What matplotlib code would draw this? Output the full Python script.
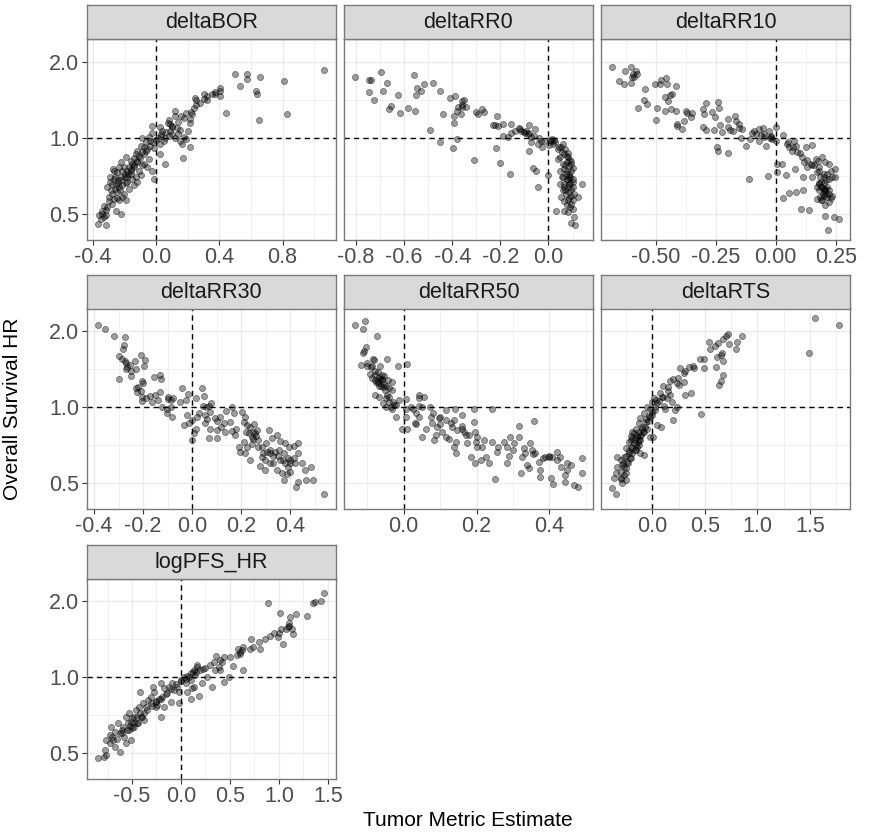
import matplotlib
matplotlib.use("Agg")
import matplotlib.pyplot as plt
import numpy as np

plt.rcParams['font.family'] = ['Liberation Sans', 'DejaVu Sans']

facet_names = ["deltaBOR", "deltaRR0", "deltaRR10", "deltaRR30",
               "deltaRR50", "deltaRTS", "logPFS_HR"]

# (tumor metric estimate, overall survival HR)
delta_bor = [
    (0.497, 1.80), (0.575, 1.80), (0.575, 1.72), (0.659, 1.75), (0.811, 1.68), (1.065, 1.865),
    (0.533, 1.61), (0.632, 1.53), (0.638, 1.49), (0.44, 1.256), (0.648, 1.18), (0.827, 1.24),
    (0.402, 1.58), (0.406, 1.54), (0.375, 1.52), (0.406, 1.46), (0.354, 1.49), (0.322, 1.46),
    (0.301, 1.49), (0.305, 1.43), (0.248, 1.44), (0.255, 1.41), (0.28, 1.38), (0.238, 1.31),
    (0.221, 1.27), (0.227, 1.245), (0.217, 1.19), (0.217, 1.15), (0.16, 1.225), (0.175, 1.2),
    (0.122, 1.28), (0.118, 1.225), (0.08, 1.18), (0.086, 1.136), (0.074, 1.15), (0.101, 1.10),
    (0.133, 1.095), (0.154, 1.075), (0.2, 1.07), (0.175, 1.01), (0.187, 0.99), (0.154, 0.97),
    (0.164, 0.947), (0.217, 0.924), (0.171, 0.835), (0.101, 1.04), (0.08, 1.02), (0.038, 1.07),
    (0.032, 1.037), (0.059, 1.0), (0.013, 1.0), (0.023, 0.947), (0.027, 0.86), (0.059, 0.79),
    (-0.029, 1.11), (-0.025, 1.05), (-0.046, 1.01), (-0.036, 0.976), (-0.067, 0.96), (-0.078, 0.918),
    (-0.067, 0.89), (-0.099, 0.932), (-0.088, 0.876), (-0.12, 0.89), (-0.11, 0.85), (-0.13, 0.864),
    (-0.141, 0.83), (-0.12, 0.813), (-0.162, 0.813), (-0.152, 0.789), (-0.173, 0.765), (-0.183, 0.742),
    (-0.141, 0.765), (-0.204, 0.765), (-0.215, 0.742), (-0.236, 0.765), (-0.246, 0.735), (-0.162, 0.72),
    (-0.13, 0.699), (-0.099, 0.71), (-0.029, 0.742), (-0.015, 0.69), (-0.057, 0.765), (-0.225, 0.699),
    (-0.267, 0.69), (-0.278, 0.657), (-0.257, 0.648), (-0.215, 0.653), (-0.183, 0.668), (-0.141, 0.648),
    (-0.288, 0.619), (-0.246, 0.61), (-0.204, 0.60), (-0.299, 0.582), (-0.267, 0.573), (-0.236, 0.565),
    (-0.278, 0.548), (-0.309, 0.531), (-0.331, 0.539), (-0.341, 0.515), (-0.32, 0.493), (-0.362, 0.493),
    (-0.331, 0.485), (-0.368, 0.457), (-0.32, 0.45), (-0.225, 0.50), (-0.194, 0.565), (-0.309, 0.638),
    (-0.173, 0.628), (-0.12, 0.668), (-0.236, 0.638), (-0.078, 0.789), (-0.046, 0.825), (-0.088, 1.0),
    (-0.015, 0.91), (0.048, 0.976), (0.122, 1.0), (0.09, 1.07), (0.137, 1.037), (0.027, 1.1),
    (-0.225, 0.80), (-0.194, 0.838), (-0.267, 0.742), (-0.183, 0.699), (-0.293, 0.668), (-0.257, 0.515),
    (-0.352, 0.478), (-0.215, 0.582), (-0.26, 0.70), (-0.24, 0.68), (-0.2, 0.72), (-0.16, 0.75),
    (-0.28, 0.60), (-0.26, 0.63), (-0.24, 0.66), (-0.22, 0.68), (-0.20, 0.70), (-0.18, 0.72),
    (-0.16, 0.74), (-0.14, 0.78), (-0.12, 0.80), (-0.10, 0.83), (-0.08, 0.86), (-0.06, 0.90),
    (-0.04, 0.93), (-0.02, 0.96), (0.00, 0.98), (0.03, 1.02), (-0.30, 0.56), (-0.32, 0.52),
    (-0.34, 0.50), (-0.25, 0.58), (-0.23, 0.62), (-0.19, 0.66), (-0.15, 0.69), (-0.11, 0.74),
    (-0.09, 0.78), (-0.27, 0.75), (-0.29, 0.70), (0.06, 1.06), (0.10, 1.12), (0.14, 1.16),
    (0.19, 1.25), (0.25, 1.35), (0.32, 1.42), (0.37, 1.50),
]

delta_rr0 = [
    (-0.803, 1.75), (-0.745, 1.70), (-0.738, 1.70), (-0.695, 1.83), (-0.67, 1.65), (-0.745, 1.52),
    (-0.688, 1.53), (-0.724, 1.42), (-0.626, 1.48), (-0.655, 1.34), (-0.661, 1.30), (-0.619, 1.26),
    (-0.585, 1.32), (-0.553, 1.28), (-0.56, 1.78), (-0.548, 1.58), (-0.552, 1.48), (-0.532, 1.53),
    (-0.519, 1.63), (-0.479, 1.65), (-0.45, 1.53), (-0.492, 1.075), (-0.45, 0.965), (-0.44, 1.245),
    (-0.41, 1.44), (-0.389, 1.46), (-0.394, 1.15), (-0.394, 1.225), (-0.379, 0.99), (-0.396, 0.91),
    (-0.361, 1.405), (-0.35, 1.42), (-0.375, 1.323), (-0.359, 1.355), (-0.364, 1.245), (-0.341, 1.33),
    (-0.382, 1.28), (-0.309, 0.818), (-0.292, 1.245), (-0.276, 1.30), (-0.268, 1.27), (-0.232, 1.125),
    (-0.215, 1.225), (-0.221, 1.125), (-0.21, 1.12), (-0.189, 1.136), (-0.157, 1.14), (-0.219, 0.91),
    (-0.201, 0.796), (-0.161, 0.72), (-0.189, 1.02), (-0.168, 1.01), (-0.154, 1.05), (-0.141, 1.07),
    (-0.124, 1.095), (-0.113, 1.07), (-0.099, 1.05), (-0.079, 1.13), (-0.058, 1.085), (-0.086, 1.037),
    (-0.072, 1.01), (-0.092, 1.07), (-0.074, 0.96), (-0.079, 0.89), (-0.065, 0.76), (-0.05, 0.74),
    (-0.044, 0.638), (-0.044, 0.947), (-0.028, 0.918), (-0.03, 0.976), (-0.003, 0.716), (0.011, 0.976),
    (0.018, 0.947), (0.028, 0.96), (0.004, 0.94), (0.039, 0.905), (0.05, 0.918), (0.055, 0.876),
    (0.046, 0.838), (0.066, 0.864), (0.08, 0.838), (0.077, 0.80), (0.087, 0.777), (0.059, 0.789),
    (0.066, 0.754), (0.094, 0.742), (0.073, 0.72), (0.087, 0.699), (0.101, 0.69), (0.055, 0.699),
    (0.066, 0.657), (0.08, 0.638), (0.094, 0.628), (0.059, 0.619), (0.073, 0.60), (0.094, 0.59),
    (0.108, 0.60), (0.124, 0.582), (0.138, 0.657), (0.046, 0.657), (0.05, 0.582), (0.08, 0.565),
    (0.094, 0.548), (0.101, 0.523), (0.032, 0.515), (0.066, 0.515), (0.08, 0.508), (0.105, 0.485),
    (0.094, 0.459), (0.11, 0.45), (0.046, 0.742), (0.094, 0.813), (0.039, 0.825), (0.087, 0.657),
    (0.07, 0.78), (0.085, 0.72), (0.075, 0.68), (0.09, 0.66), (0.07, 0.62), (0.1, 0.64),
    (0.085, 0.58), (0.065, 0.56), (0.09, 0.70), (0.075, 0.85), (0.1, 0.76), (0.06, 0.70),
    (0.015, 0.99), (0.005, 0.98), (0.025, 0.985),
    (0.06, 0.95), (0.045, 0.92), (0.07, 0.90), (0.08, 0.87), (0.085, 0.82), (0.095, 0.79),
    (0.075, 0.74), (0.08, 0.69), (0.10, 0.67), (0.065, 0.64), (0.085, 0.61), (0.10, 0.57),
    (0.075, 0.54), (0.09, 0.53), (-0.12, 1.08), (-0.10, 1.06), (-0.08, 1.05), (-0.06, 1.02),
    (-0.04, 1.00), (-0.02, 0.97), (-0.30, 1.27), (-0.36, 1.33),
]

delta_rr10 = [
    (-0.68, 1.905), (-0.628, 1.84), (-0.651, 1.68), (-0.632, 1.64), (-0.603, 1.645), (-0.603, 1.905),
    (-0.593, 1.80), (-0.579, 1.80), (-0.589, 1.74), (-0.542, 1.57), (-0.548, 1.414), (-0.534, 1.36),
    (-0.575, 1.32), (-0.501, 1.64), (-0.483, 1.63), (-0.476, 1.69), (-0.458, 1.73), (-0.451, 1.63),
    (-0.414, 1.60), (-0.461, 1.45), (-0.439, 1.48), (-0.43, 1.50), (-0.492, 1.31), (-0.499, 1.18),
    (-0.459, 1.28), (-0.437, 1.30), (-0.414, 1.28), (-0.41, 1.14), (-0.41, 1.11), (-0.392, 1.08),
    (-0.383, 1.17), (-0.375, 1.28), (-0.37, 1.26), (-0.352, 1.215), (-0.303, 1.30), (-0.29, 1.38),
    (-0.30, 1.245), (-0.303, 1.10), (-0.29, 1.075), (-0.266, 1.27), (-0.251, 1.207), (-0.239, 1.39),
    (-0.234, 1.31), (-0.232, 1.125), (-0.255, 1.075), (-0.223, 1.06), (-0.246, 0.918), (-0.241, 0.885),
    (-0.197, 0.87), (-0.197, 1.19), (-0.19, 1.075), (-0.179, 1.07), (-0.168, 1.22), (-0.166, 1.17),
    (-0.152, 1.14), (-0.154, 1.095), (-0.142, 1.08), (-0.143, 1.0), (-0.124, 0.932), (-0.113, 0.69),
    (-0.108, 0.99), (-0.09, 1.07), (-0.083, 1.04), (-0.069, 1.085), (-0.055, 1.095), (-0.062, 1.03),
    (-0.069, 0.976), (-0.048, 1.01), (-0.039, 0.932), (-0.03, 1.07), (-0.021, 1.02), (-0.023, 1.0),
    (-0.014, 0.99), (0.0, 1.10), (0.003, 0.976), (-0.032, 0.705), (0.007, 0.73), (0.007, 0.789),
    (0.028, 0.79), (0.032, 1.03), (0.032, 0.577), (0.044, 0.716), (0.048, 0.947), (0.055, 0.918),
    (0.069, 0.89), (0.076, 0.976), (0.083, 0.932), (0.09, 0.876), (0.079, 0.755), (0.055, 0.605),
    (0.083, 0.612), (0.11, 0.838), (0.117, 0.80), (0.124, 0.918), (0.152, 0.94), (0.113, 0.699),
    (0.113, 0.619), (0.106, 0.523), (0.138, 0.52), (0.131, 0.765), (0.145, 0.789), (0.152, 0.699),
    (0.166, 0.825), (0.177, 0.813), (0.182, 0.765), (0.193, 0.838), (0.207, 0.80), (0.221, 0.789),
    (0.228, 0.742), (0.214, 0.72), (0.2, 0.699), (0.234, 0.699), (0.248, 0.699), (0.182, 0.657),
    (0.193, 0.638), (0.207, 0.628), (0.179, 0.619), (0.2, 0.61), (0.221, 0.60), (0.214, 0.582),
    (0.186, 0.582), (0.172, 0.638), (0.234, 0.59), (0.193, 0.565), (0.221, 0.556), (0.207, 0.54),
    (0.204, 0.49), (0.241, 0.485), (0.262, 0.478), (0.218, 0.43), (0.172, 0.574), (0.248, 0.754),
    (0.19, 0.64), (0.2, 0.66), (0.205, 0.62), (0.195, 0.60), (0.21, 0.68), (0.185, 0.70),
    (0.215, 0.64), (0.2, 0.59), (0.19, 0.57), (0.22, 0.62), (0.17, 0.73), (0.16, 0.78),
    (0.05, 0.96), (0.07, 0.92), (0.10, 0.87), (0.13, 0.82), (0.15, 0.78), (0.18, 0.74),
    (0.20, 0.72), (0.22, 0.69), (0.19, 0.67), (0.20, 0.63), (0.18, 0.66), (0.21, 0.60),
    (0.23, 0.58), (-0.10, 1.05), (-0.05, 1.04), (-0.02, 1.01), (-0.20, 1.10), (-0.35, 1.25),
    (-0.45, 1.40), (-0.60, 1.75), (-0.58, 1.85),
]

delta_rr30 = [
    (-0.384, 2.13), (-0.357, 2.04), (-0.319, 1.92), (-0.274, 1.905), (-0.278, 1.77), (-0.283, 1.71),
    (-0.286, 1.55), (-0.275, 1.53), (-0.254, 1.47), (-0.264, 1.45), (-0.27, 1.50), (-0.235, 1.53),
    (-0.21, 1.61), (-0.191, 1.54), (-0.197, 1.46), (-0.228, 1.414), (-0.297, 1.30), (-0.251, 1.33),
    (-0.206, 1.27), (-0.156, 1.315), (-0.129, 1.34), (-0.126, 1.30), (-0.231, 1.19), (-0.224, 1.15),
    (-0.21, 1.16), (-0.203, 1.10), (-0.19, 1.085), (-0.17, 1.11), (-0.203, 1.06), (-0.163, 1.05),
    (-0.138, 1.07), (-0.132, 1.15), (-0.099, 1.095), (-0.088, 1.075), (-0.077, 1.085), (-0.122, 1.0),
    (-0.102, 0.99), (-0.088, 1.0), (-0.102, 0.947), (-0.081, 0.913), (-0.041, 1.19), (-0.018, 1.13),
    (-0.023, 1.07), (0.014, 1.085), (0.041, 1.195), (0.047, 1.11), (-0.02, 0.932), (-0.034, 0.85),
    (-0.014, 0.864), (0.0, 0.89), (0.014, 0.825), (0.007, 0.789), (0.0, 0.742), (0.02, 0.918),
    (0.045, 1.01), (0.058, 1.0), (0.068, 1.01), (0.072, 0.96), (0.054, 0.932), (0.077, 1.04),
    (0.054, 0.864), (0.075, 0.825), (0.095, 0.908), (0.115, 0.913), (0.129, 0.87), (0.102, 0.813),
    (0.068, 0.754), (0.102, 0.754), (0.138, 0.968), (0.163, 1.0), (0.172, 0.947), (0.153, 0.876),
    (0.136, 0.80), (0.163, 0.803), (0.176, 0.777), (0.19, 0.699), (0.203, 0.96), (0.217, 0.918),
    (0.21, 0.876), (0.224, 0.85), (0.237, 0.838), (0.251, 0.86), (0.264, 0.813), (0.231, 0.789),
    (0.244, 0.765), (0.258, 0.789), (0.271, 0.742), (0.21, 0.73), (0.224, 0.699), (0.244, 0.716),
    (0.197, 0.668), (0.217, 0.657), (0.237, 0.619), (0.285, 0.699), (0.312, 0.813), (0.325, 0.754),
    (0.346, 0.777), (0.305, 0.668), (0.319, 0.657), (0.339, 0.668), (0.356, 0.678), (0.374, 0.657),
    (0.285, 0.638), (0.298, 0.619), (0.319, 0.60), (0.332, 0.604), (0.278, 0.585), (0.298, 0.565),
    (0.346, 0.565), (0.366, 0.548), (0.386, 0.543), (0.40, 0.556), (0.376, 0.515), (0.359, 0.735),
    (0.38, 0.72), (0.397, 0.699), (0.414, 0.705), (0.434, 0.723), (0.434, 0.657), (0.414, 0.63),
    (0.40, 0.60), (0.447, 0.60), (0.484, 0.582), (0.461, 0.565), (0.434, 0.508), (0.465, 0.515),
    (0.495, 0.515), (0.423, 0.482), (0.54, 0.452), (0.359, 0.619), (0.393, 0.63),
    (-0.22, 1.20), (-0.25, 1.40), (0.25, 0.80), (0.26, 0.77), (0.33, 0.64), (0.39, 0.58),
    (0.22, 0.80), (0.25, 0.75), (0.30, 0.72), (0.32, 0.68), (0.35, 0.64), (0.37, 0.62),
    (0.38, 0.60), (0.40, 0.62), (0.42, 0.60), (0.27, 0.70), (0.29, 0.66), (0.12, 0.84),
    (0.10, 0.88), (-0.05, 1.05), (-0.10, 1.08), (-0.15, 1.12), (-0.20, 1.25), (-0.27, 1.42),
    (-0.30, 1.60), (0.03, 0.95), (0.06, 0.90), (0.18, 0.82),
]

delta_rr50 = [
    (-0.133, 2.13), (-0.107, 2.20), (-0.111, 2.04), (-0.074, 1.92), (-0.104, 1.73), (-0.109, 1.68),
    (-0.113, 1.64), (-0.084, 1.56), (-0.081, 1.54), (-0.118, 1.47), (-0.10, 1.46), (-0.086, 1.46),
    (-0.066, 1.46), (-0.047, 1.55), (-0.015, 1.46), (0.008, 1.49), (-0.093, 1.355), (-0.079, 1.34),
    (-0.068, 1.32), (-0.06, 1.28), (-0.075, 1.26), (-0.054, 1.33), (-0.042, 1.28), (-0.031, 1.26),
    (-0.069, 1.215), (-0.058, 1.20), (-0.04, 1.19), (-0.031, 1.17), (-0.079, 1.12), (-0.068, 1.10),
    (-0.049, 1.085), (-0.058, 1.037), (-0.04, 1.05), (-0.026, 1.02), (-0.035, 1.0), (-0.049, 1.0),
    (-0.013, 1.075), (0.005, 1.08), (-0.031, 0.99), (-0.02, 0.913), (-0.004, 0.818), (0.01, 0.818),
    (0.007, 0.99), (0.005, 0.918), (0.026, 0.99), (0.042, 1.085), (0.042, 1.12), (0.056, 1.10),
    (0.042, 1.01), (0.051, 1.0), (0.035, 0.947), (0.042, 0.918), (0.031, 0.87), (0.035, 0.86),
    (0.049, 0.76), (0.071, 1.0), (0.074, 0.918), (0.079, 0.864), (0.083, 0.742), (0.088, 0.777),
    (0.097, 0.905), (0.101, 0.86), (0.092, 0.838), (0.115, 0.976), (0.115, 0.89), (0.106, 0.80),
    (0.115, 0.765), (0.124, 0.747), (0.133, 0.838), (0.138, 0.89), (0.142, 0.99), (0.147, 0.813),
    (0.144, 0.73), (0.138, 0.699), (0.144, 0.657), (0.159, 0.932), (0.161, 0.845), (0.165, 0.80),
    (0.174, 0.72), (0.17, 0.777), (0.184, 0.638), (0.193, 0.99), (0.193, 0.876), (0.197, 0.80),
    (0.202, 0.765), (0.199, 0.73), (0.216, 0.699), (0.197, 0.60), (0.211, 0.619), (0.225, 0.638),
    (0.234, 0.60), (0.243, 0.73), (0.243, 0.99), (0.252, 0.519), (0.257, 0.668), (0.275, 0.73),
    (0.284, 0.699), (0.284, 0.60), (0.289, 0.64), (0.293, 0.76), (0.303, 0.72), (0.316, 0.765),
    (0.316, 0.843), (0.321, 0.548), (0.325, 0.638), (0.33, 0.693), (0.334, 0.657), (0.339, 0.59),
    (0.344, 0.574), (0.348, 0.725), (0.352, 0.678), (0.356, 0.655), (0.357, 0.885), (0.371, 0.605),
    (0.375, 0.565), (0.375, 0.531), (0.382, 0.628), (0.389, 0.638), (0.398, 0.635), (0.407, 0.638),
    (0.405, 0.523), (0.409, 0.495), (0.421, 0.668), (0.43, 0.635), (0.433, 0.582), (0.444, 0.54),
    (0.444, 0.508), (0.448, 0.565), (0.46, 0.59), (0.469, 0.493), (0.479, 0.482), (0.489, 0.633),
    (0.489, 0.548), (-0.088, 1.31), (-0.072, 1.38), (-0.063, 1.215), (-0.051, 1.17),
    (-0.065, 1.30), (-0.07, 1.27), (-0.06, 1.35), (-0.078, 1.29), (-0.055, 1.24), (-0.045, 1.12),
    (-0.07, 1.25), (-0.06, 1.30), (-0.05, 1.22), (-0.08, 1.40), (-0.09, 1.45), (-0.10, 1.50),
    (-0.04, 1.10), (-0.03, 1.05), (-0.02, 1.02), (0.02, 1.00), (0.08, 0.95), (0.10, 0.92),
    (0.13, 0.87), (0.16, 0.82), (0.18, 0.78), (0.22, 0.74), (0.26, 0.70), (0.30, 0.68),
    (0.36, 0.66), (0.40, 0.64), (0.42, 0.62), (0.45, 0.60), (0.06, 0.82), (0.20, 0.70),
]

delta_rts = [
    (1.549, 2.27), (1.773, 2.12), (1.486, 1.637), (0.722, 1.96), (0.70, 1.92), (0.855, 1.92),
    (0.675, 1.86), (0.628, 1.80), (0.801, 1.82), (0.732, 1.78), (0.795, 1.71), (0.543, 1.82),
    (0.666, 1.645), (0.65, 1.61), (0.618, 1.58), (0.675, 1.53), (0.492, 1.56), (0.492, 1.43),
    (0.606, 1.45), (0.675, 1.34), (0.65, 1.27), (0.637, 1.225), (0.382, 1.46), (0.391, 1.43),
    (0.312, 1.40), (0.303, 1.37), (0.265, 1.43), (0.24, 1.31), (0.233, 1.25), (0.249, 1.225),
    (0.303, 1.26), (0.312, 1.12), (0.369, 1.14), (0.17, 1.27), (0.098, 1.215), (0.148, 1.16),
    (0.164, 1.12), (0.076, 1.136), (0.091, 1.095), (0.139, 1.085), (0.186, 1.05), (0.013, 1.085),
    (0.038, 1.075), (-0.003, 1.05), (0.044, 1.037), (0.107, 1.01), (0.123, 0.99), (0.233, 1.0),
    (0.218, 0.976), (0.196, 0.89), (0.461, 0.94), (-0.05, 1.0), (-0.019, 0.99), (0.028, 0.976),
    (-0.082, 0.947), (-0.035, 0.924), (-0.003, 0.932), (-0.114, 0.905), (-0.066, 0.876), (0.044, 0.85),
    (0.085, 0.838), (-0.129, 0.864), (-0.098, 0.838), (-0.161, 0.825), (-0.129, 0.80), (-0.082, 0.80),
    (-0.177, 0.789), (-0.145, 0.765), (-0.192, 0.754), (-0.019, 0.765), (0.006, 0.76), (-0.114, 0.742),
    (-0.224, 0.73), (-0.177, 0.72), (-0.129, 0.71), (-0.208, 0.699), (-0.256, 0.69), (-0.161, 0.678),
    (-0.082, 0.648), (-0.224, 0.657), (-0.271, 0.638), (-0.208, 0.628), (-0.303, 0.619), (-0.24, 0.61),
    (-0.287, 0.59), (-0.334, 0.582), (-0.256, 0.574), (-0.303, 0.556), (-0.35, 0.548), (-0.271, 0.539),
    (-0.303, 0.523), (-0.287, 0.50), (-0.256, 0.515), (-0.366, 0.527), (-0.382, 0.478), (-0.35, 0.452),
    (-0.208, 0.742), (-0.192, 0.80), (-0.05, 0.818), (-0.114, 0.657), (-0.334, 0.638),
    (-0.15, 0.78), (-0.17, 0.75), (-0.14, 0.73), (-0.2, 0.77), (-0.12, 0.77), (-0.16, 0.71),
    (-0.19, 0.69), (-0.22, 0.67), (-0.25, 0.64), (-0.28, 0.60), (-0.1, 0.82), (-0.06, 0.9),
    (-0.25, 0.55), (-0.23, 0.60), (-0.21, 0.63), (-0.19, 0.66), (-0.17, 0.68), (-0.15, 0.70),
    (-0.13, 0.74), (-0.11, 0.78), (-0.09, 0.80), (-0.07, 0.84), (-0.04, 0.88), (-0.02, 0.92),
    (0.00, 0.96), (0.02, 1.00), (0.06, 1.06), (0.10, 1.10), (-0.30, 0.52), (-0.27, 0.58),
    (0.15, 1.20), (0.20, 1.30), (0.35, 1.45), (0.45, 1.55), (0.55, 1.70), (0.60, 1.75),
]

log_pfs_hr = [
    (1.464, 2.17), (1.43, 2.0), (1.373, 1.99), (1.346, 1.98), (0.89, 1.975), (1.288, 1.75),
    (1.177, 1.78), (1.11, 1.74), (1.015, 1.80), (1.103, 1.645), (1.093, 1.59), (1.019, 1.56),
    (1.076, 1.55), (1.137, 1.55), (1.143, 1.48), (1.042, 1.355), (0.992, 1.45), (0.907, 1.46),
    (0.857, 1.414), (0.806, 1.295), (0.739, 1.32), (0.715, 1.42), (0.637, 1.32), (0.621, 1.28),
    (0.604, 1.26), (0.587, 1.30), (0.57, 1.225), (0.637, 1.075), (0.536, 1.11), (0.435, 1.207),
    (0.418, 1.15), (0.384, 1.10), (0.361, 1.215), (0.334, 1.15), (0.351, 1.075), (0.401, 1.07),
    (0.486, 1.0), (0.442, 0.96), (0.317, 0.913), (0.25, 1.085), (0.199, 1.07), (0.165, 1.12),
    (0.159, 1.10), (0.132, 1.07), (0.148, 1.02), (0.098, 1.037), (0.064, 1.01), (0.03, 1.0),
    (0.098, 0.976), (0.047, 0.947), (0.132, 0.918), (0.115, 0.905), (0.182, 0.845), (0.064, 0.876),
    (0.098, 0.825), (-0.003, 0.976), (-0.037, 0.918), (-0.02, 0.876), (-0.02, 0.794), (-0.088, 0.947),
    (-0.071, 0.89), (-0.121, 0.918), (-0.138, 0.864), (-0.206, 0.947), (-0.172, 0.905), (-0.29, 0.918),
    (-0.28, 0.876), (-0.223, 0.825), (-0.256, 0.806), (-0.189, 0.838), (-0.24, 0.777), (-0.172, 0.765),
    (-0.206, 0.70), (-0.307, 0.789), (-0.341, 0.813), (-0.415, 0.876), (-0.357, 0.765), (-0.391, 0.789),
    (-0.425, 0.765), (-0.459, 0.742), (-0.374, 0.72), (-0.408, 0.699), (-0.476, 0.699), (-0.526, 0.72),
    (-0.56, 0.699), (-0.509, 0.668), (-0.442, 0.657), (-0.476, 0.638), (-0.543, 0.657), (-0.594, 0.638),
    (-0.644, 0.657), (-0.526, 0.619), (-0.627, 0.60), (-0.712, 0.638), (-0.678, 0.61), (-0.728, 0.59),
    (-0.762, 0.565), (-0.695, 0.565), (-0.577, 0.582), (-0.506, 0.565), (-0.56, 0.548), (-0.678, 0.531),
    (-0.62, 0.508), (-0.779, 0.515), (-0.769, 0.493), (-0.847, 0.478), (-0.786, 0.485), (-0.307, 0.838),
    (-0.105, 0.80), (0.216, 0.947), (0.267, 1.0),
    (-0.5, 0.69), (-0.45, 0.70), (-0.48, 0.66), (-0.52, 0.64), (-0.42, 0.72), (-0.25, 0.76),
    (-0.6, 0.62), (-0.7, 0.58), (0.05, 0.99), (0.12, 1.05), (0.6, 1.24), (0.95, 1.50),
    (-0.55, 0.62), (-0.50, 0.63), (-0.45, 0.66), (-0.40, 0.70), (-0.35, 0.74), (-0.30, 0.77),
    (-0.25, 0.80), (-0.20, 0.82), (-0.15, 0.86), (-0.10, 0.90), (-0.05, 0.94), (0.00, 0.97),
    (0.08, 1.00), (0.15, 1.05), (0.22, 1.08), (0.30, 1.12), (0.40, 1.17), (0.50, 1.20),
    (0.70, 1.30), (0.80, 1.38), (1.00, 1.50), (1.10, 1.60), (-0.65, 0.57), (-0.72, 0.55),
    (-0.60, 0.60), (-0.38, 0.68),
]

facet_data = [delta_bor, delta_rr0, delta_rr10, delta_rr30, delta_rr50, delta_rts, log_pfs_hr]

x_breaks = [
    [-0.4, 0.0, 0.4, 0.8],
    [-0.8, -0.6, -0.4, -0.2, 0.0],
    [-0.5, -0.25, 0.0, 0.25],
    [-0.4, -0.2, 0.0, 0.2, 0.4],
    [0.0, 0.2, 0.4],
    [0.0, 0.5, 1.0, 1.5],
    [-0.5, 0.0, 0.5, 1.0, 1.5],
]
x_tick_labels = [
    ["-0.4", "0.0", "0.4", "0.8"],
    ["-0.8", "-0.6", "-0.4", "-0.2", "0.0"],
    ["-0.50", "-0.25", "0.00", "0.25"],
    ["-0.4", "-0.2", "0.0", "0.2", "0.4"],
    ["0.0", "0.2", "0.4"],
    ["0.0", "0.5", "1.0", "1.5"],
    ["-0.5", "0.0", "0.5", "1.0", "1.5"],
]
y_breaks = [0.5, 1.0, 2.0]
y_tick_labels = ["0.5", "1.0", "2.0"]

x_title = "Tumor Metric Estimate"
y_title = "Overall Survival HR"

# ---------------- layout ----------------
W, H = 884, 833
fig = plt.figure(figsize=(W / 100, H / 100), dpi=100)
fig.patch.set_facecolor("white")

col_left = [86.7, 344.0, 601.0]
row_top = [39.0, 308.5, 578.5]
pw, ph = 249.0, 200.5
strip_h = 33.5

border_col = "#7A7A7A"
tick_mark_col = "#333333"
grid_col = "#EBEBEB"
tick_col = "#4D4D4D"

# shared log-scale y limits (5% expansion in log space)
all_y = np.concatenate([np.array([p[1] for p in d]) for d in facet_data])
ly0, ly1 = np.log10(all_y.min()), np.log10(all_y.max())
pad = 0.05 * (ly1 - ly0)
ylim = (10 ** (ly0 - pad), 10 ** (ly1 + pad))
y_minor = [np.sqrt(y_breaks[i] * y_breaks[i + 1]) for i in range(len(y_breaks) - 1)]

for i, name in enumerate(facet_names):
    r, c = divmod(i, 3)
    l, t = col_left[c], row_top[r]
    ax = fig.add_axes([l / W, (H - t - ph) / H, pw / W, ph / H])
    xs = np.array([p[0] for p in facet_data[i]])
    ys = np.array([p[1] for p in facet_data[i]])

    x0, x1 = xs.min(), xs.max()
    xp = 0.05 * (x1 - x0)
    xlim = (x0 - xp, x1 + xp)

    ax.set_yscale("log")
    ax.axhline(1.0, color="black", lw=1.0, ls=(0, (3.8, 3.0)), zorder=2)
    ax.axvline(0.0, color="black", lw=1.0, ls=(0, (3.8, 3.0)), zorder=2)
    ax.scatter(xs, ys, s=19, facecolor=(0, 0, 0, 0.38), edgecolor=(0, 0, 0, 0.45),
               linewidths=0.6, zorder=3)

    br = x_breaks[i]
    step = br[1] - br[0]
    mids = [(br[k] + br[k + 1]) / 2 for k in range(len(br) - 1)]
    mids = [br[0] - step / 2] + mids + [br[-1] + step / 2]
    mids = [m for m in mids if xlim[0] <= m <= xlim[1]]

    ax.set_xticks(br)
    ax.set_xticklabels(x_tick_labels[i])
    ax.set_xticks(mids, minor=True)
    ax.set_yticks(y_breaks)
    ax.set_yticks(y_minor, minor=True)
    ax.set_yticklabels(y_tick_labels)
    ax.yaxis.set_minor_formatter(plt.NullFormatter())
    ax.set_xlim(xlim)
    ax.set_ylim(ylim)

    ax.grid(which="major", color=grid_col, lw=1.0, zorder=0)
    ax.grid(which="minor", color=grid_col, lw=0.5, zorder=0)
    ax.set_axisbelow(True)

    ax.tick_params(axis="both", which="minor", length=0)
    ax.tick_params(axis="x", which="major", length=3.3, width=0.8, color=tick_mark_col,
                   labelsize=15.5, labelcolor=tick_col, pad=2.0)
    if c == 0:
        ax.tick_params(axis="y", which="major", length=3.3, width=0.8, color=tick_mark_col,
                       labelsize=15.5, labelcolor=tick_col, pad=2.0)
    else:
        ax.tick_params(axis="y", which="major", length=0, labelleft=False)

    for sp in ax.spines.values():
        sp.set_color(border_col)
        sp.set_linewidth(1.0)

    sax = fig.add_axes([l / W, (H - t) / H, pw / W, strip_h / H])
    sax.set_facecolor("#D9D9D9")
    sax.set_xticks([])
    sax.set_yticks([])
    for sp in sax.spines.values():
        sp.set_color(border_col)
        sp.set_linewidth(1.0)
    sax.text(0.5, 0.48, name, transform=sax.transAxes, ha="center", va="center",
             fontsize=15.5, color="#1A1A1A")

fig.text(468 / W, 1 - 820 / H, x_title, ha="center", va="center", fontsize=15, color="black")
fig.text(13 / W, 1 - 409 / H, y_title, ha="center", va="center", rotation=90,
         fontsize=15, color="black")

fig.savefig("out.png", dpi=100, facecolor="white")
